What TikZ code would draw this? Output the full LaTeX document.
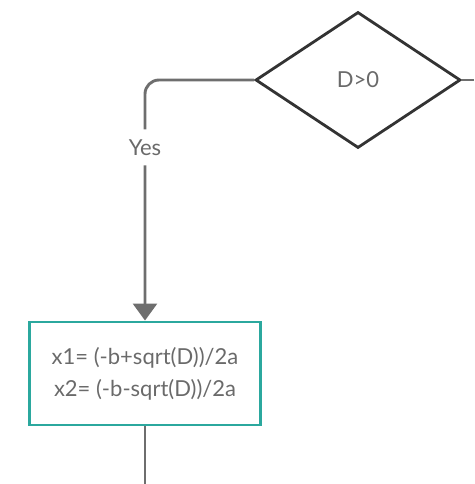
\documentclass[tikz,border=0pt]{standalone}
\usepackage{fontspec}
\setmainfont{Lato}
\usetikzlibrary{shapes.geometric,arrows.meta}
\definecolor{linegrey}{HTML}{6E6E6E}
\definecolor{textgrey}{HTML}{6A6A6A}
\definecolor{boxteal}{HTML}{2BA89E}
\begin{document}
\begin{tikzpicture}[x=1pt,y=-1pt,
    font=\fontsize{22}{27}\selectfont, text=textgrey,
    flow/.style={draw=linegrey, line width=2.9pt},
    arrowflow/.style={flow, -{Triangle[length=17pt,width=24pt]}}]

      \useasboundingbox (0,0) rectangle (474,484);

      \begin{scope}[every node/.style={inner sep=0pt}]
        \node[diamond, draw=black!80, line width=2.8pt,
              minimum width=205pt, minimum height=136pt] (cond) at (358,80) {D>0};
        \node[rectangle, draw=boxteal, line width=2.9pt,
              minimum width=231pt, minimum height=103pt, align=center] (roots) at (145,373.5)
              {x1= (-b+sqrt(D))/2a\\[5pt]x2= (-b-sqrt(D))/2a};
      \end{scope}

      \coordinate (out) at (474,80);
      \coordinate (down) at (145,484);

      \draw[arrowflow, rounded corners=14pt] (cond.west) -| node[pos=0.64, fill=white, inner ysep=10pt] {Yes} (roots.north);
      \draw[flow] (cond.east) -- (out);
      \draw[flow] (roots.south) -- (down);

    \end{tikzpicture}
\end{document}
